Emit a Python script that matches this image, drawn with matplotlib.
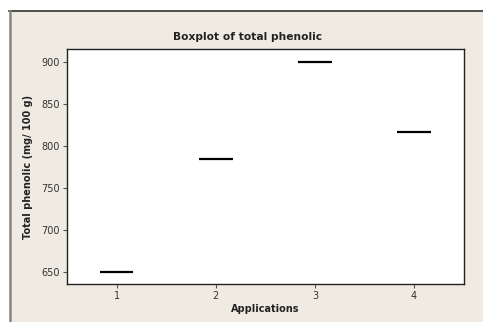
import matplotlib

matplotlib.use("Agg")
import matplotlib.pyplot as plt
from matplotlib.patches import Rectangle

# data
applications = [1, 2, 3, 4]
total_phenolic = [650, 785, 900, 817]
yticks = [650, 700, 750, 800, 850, 900]

BG = "#efebe2"
INK = "#222222"

fig = plt.figure(figsize=(4.83, 3.22), dpi=100)
fig.patch.set_facecolor("white")

# beige panel with dark top edge and grey left edge
fig.patches.append(Rectangle((9 / 483, 0), 1, 311 / 322, transform=fig.transFigure,
                             facecolor=BG, edgecolor="none", zorder=-5))
fig.add_artist(plt.Line2D([9 / 483, 1], [311 / 322, 311 / 322], transform=fig.transFigure,
                          color="#333333", lw=1.2, zorder=-4))
fig.add_artist(plt.Line2D([9.5 / 483, 9.5 / 483], [0, 311 / 322], transform=fig.transFigure,
                          color="#8a8782", lw=1.8, zorder=-4))

ax = fig.add_axes([67 / 483, 38 / 322, 396.7 / 483, 235 / 322])
ax.set_zorder(5)
ax.set_facecolor("white")
half = 0.17
ax.hlines(total_phenolic, [a - half for a in applications],
          [a + half for a in applications], color="black", lw=1.6)

ax.set_xlim(0.5, 4.5)
ax.set_ylim(635.3, 915.9)
ax.set_xticks(applications)
ax.set_yticks(yticks)
ax.tick_params(labelsize=7, colors="#555555", labelcolor="#333333",
               length=3, width=0.8, pad=2)
for s in ax.spines.values():
    s.set_color(INK)
    s.set_linewidth(1.0)

ax.set_xlabel("Applications", fontsize=7, fontweight="bold", color=INK, labelpad=2)
ax.set_ylabel("Total phenolic (mg/ 100 g)", fontsize=7, fontweight="bold",
              color=INK, labelpad=6)
fig.text(247.5 / 483, 1 - 37 / 322, "Boxplot of total phenolic", ha="center",
         va="center", fontsize=7.7, fontweight="bold", color=INK)

fig.savefig("out.png", dpi=100, facecolor=fig.get_facecolor())
